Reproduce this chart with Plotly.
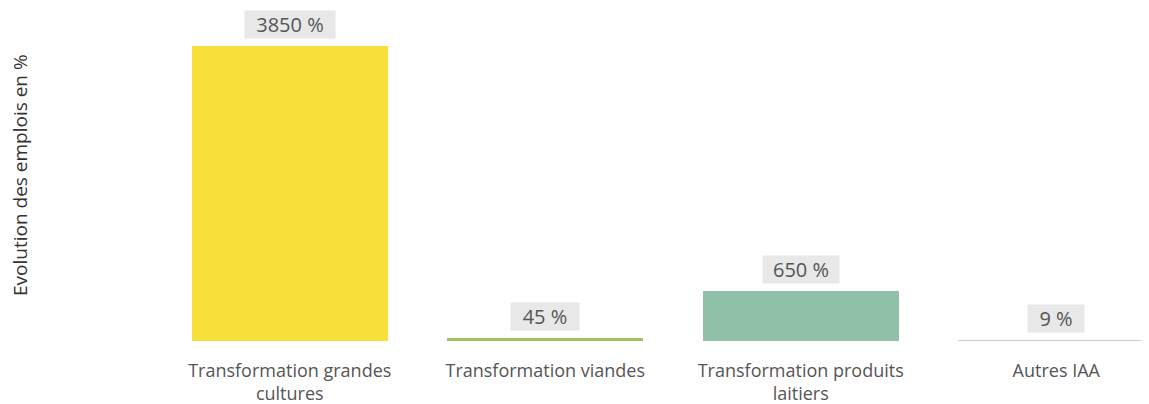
import plotly.graph_objects as go

categories = ["Transformation grandes<br>cultures", "Transformation viandes",
              "Transformation produits<br>laitiers", "Autres IAA"]
values = [3850, 45, 650, 9]
colors = ["#F8E03A", "#9DC45C", "#90C0A7", "#CCCCCC"]
labels = ["3850 %", "45 %", "650 %", "9 %"]

W, H = 1149, 404
off = 8  # body margin of the html page
ml, mr, mt, mb = 154, 0, 20, 71
slot = 255.5
plot_w = W - ml - mr
x_max = -0.5 + plot_w / slot
base = 341 - off
ymax = 3850 * (base - mt) / 295.0

fig = go.Figure()
fig.add_trace(go.Bar(
    x=list(range(len(categories))), y=values,
    marker=dict(color=colors, line=dict(width=0)),
    width=0.767, hoverinfo="skip",
))

label_w = [90, 68, 76, 56]
for i, (v, t) in enumerate(zip(values, labels)):
    fig.add_annotation(
        x=i, y=v, xref="x", yref="y", text=t, showarrow=False,
        yanchor="bottom", yshift=7,
        width=label_w[i], height=27, borderpad=0,
        font=dict(family="Open Sans, sans-serif", size=20, color="#555555"),
        bgcolor="#E8E8E8",
    )

fig.add_annotation(
    xref="paper", yref="paper", x=(20 - off - ml) / plot_w,
    y=(base - (175 - off)) / (base - mt),
    text="Evolution des emplois en %", textangle=-90, showarrow=False,
    xanchor="center", yanchor="middle",
    font=dict(family="Open Sans, sans-serif", size=19, color="#333333"),
)

fig.update_layout(
    width=W, height=H,
    margin=dict(l=ml, r=mr, t=mt, b=mb),
    paper_bgcolor="white", plot_bgcolor="white",
    showlegend=False,
    bargap=0,
    xaxis=dict(
        tickmode="array", tickvals=list(range(len(categories))), ticktext=categories,
        range=[-0.5, x_max], showgrid=False, zeroline=False, showline=False,
        ticks="outside", ticklen=13, tickcolor="rgba(0,0,0,0)",
        tickfont=dict(family="Open Sans, sans-serif", size=18, color="#555555"),
        fixedrange=True,
    ),
    yaxis=dict(
        range=[0, ymax], showgrid=False, zeroline=False, showline=False,
        showticklabels=False, ticks="", fixedrange=True,
    ),
)

fig.write_html("out.html")
